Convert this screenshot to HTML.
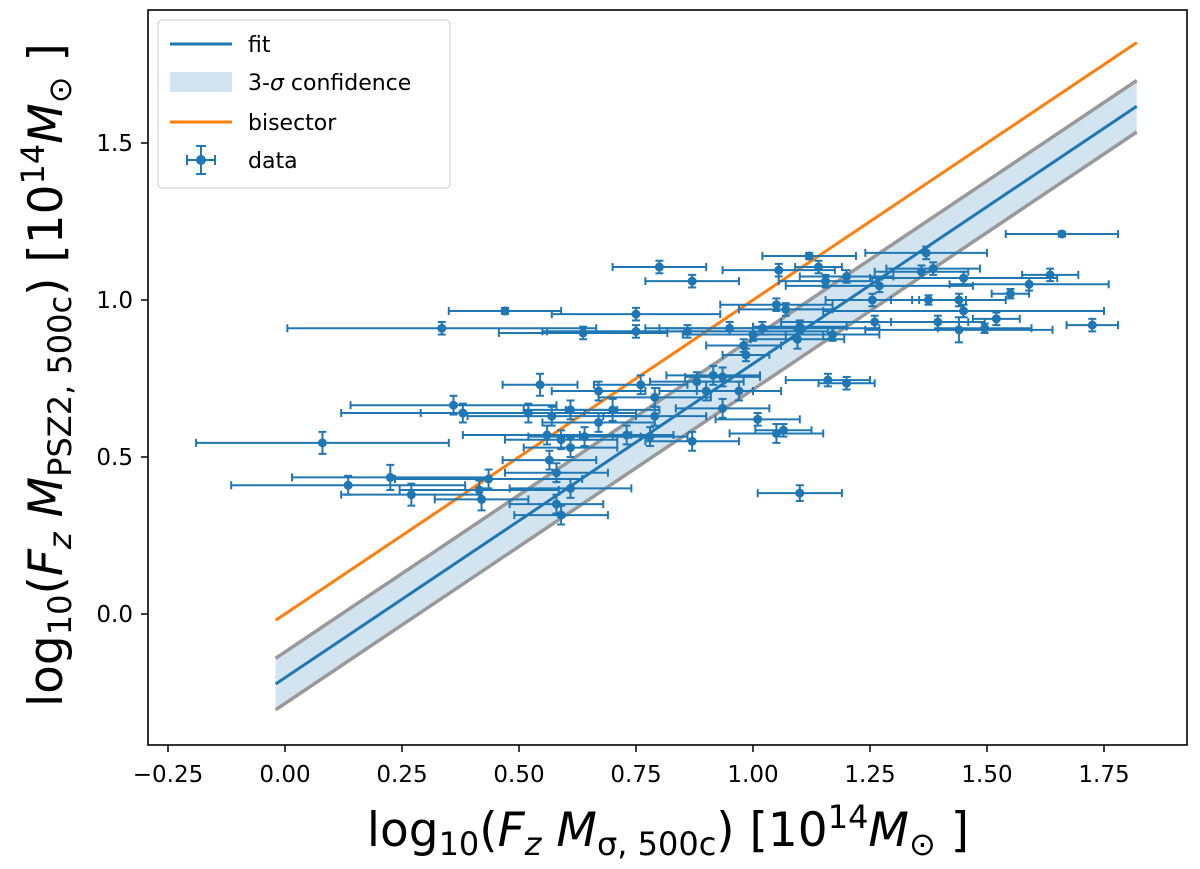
<!DOCTYPE html>
<html><head><meta charset="utf-8"><style>
body{margin:0;background:#fff;}
svg text{font-family:"DejaVu Sans","Liberation Sans",sans-serif;}
</style></head><body>
<svg id="chart" width="1200" height="864" viewBox="0 0 1200 864">
<defs><clipPath id="clip"><rect x="148" y="10" width="1039" height="735"/></clipPath></defs>
<g id="plot" clip-path="url(#clip)"></g>
<rect x="148" y="10" width="1039" height="735" fill="none" stroke="#000" stroke-width="1.6"/>
<g id="axes"></g>
<g>
<rect x="158" y="20" width="292" height="168" rx="4" fill="#fff" fill-opacity="0.8" stroke="#ccc" stroke-width="1"/>
<line x1="170" y1="44" x2="232" y2="44" stroke="#1f77b4" stroke-width="3"/>
<text x="248" y="52" font-size="22">fit</text>
<rect x="170" y="72" width="62" height="20" fill="#1f77b4" fill-opacity="0.2"/>
<text x="248" y="90" font-size="22">3-<tspan font-style="italic">σ</tspan> confidence</text>
<line x1="170" y1="122" x2="232" y2="122" stroke="#ff7f0e" stroke-width="3"/>
<text x="248" y="130" font-size="22">bisector</text>
<g stroke="#1f77b4" stroke-width="2">
<line x1="187" y1="160" x2="215" y2="160"/><line x1="201" y1="146" x2="201" y2="174"/>
<line x1="187" y1="155" x2="187" y2="165"/><line x1="215" y1="155" x2="215" y2="165"/>
<line x1="196" y1="146" x2="206" y2="146"/><line x1="196" y1="174" x2="206" y2="174"/>
<circle cx="201" cy="160" r="5" fill="#1f77b4" stroke="none"/></g>
<text x="248" y="168" font-size="22">data</text>
</g>
<text x="668" y="846" font-size="47" text-anchor="middle">log<tspan font-size="32" dy="9">10</tspan><tspan dy="-9">(</tspan><tspan font-style="italic">F</tspan><tspan font-style="italic" font-size="32" dy="9">z</tspan><tspan dy="-9"> </tspan><tspan font-style="italic">M</tspan><tspan font-size="32" dy="9">σ, 500c</tspan><tspan dy="-9">) [10</tspan><tspan font-size="32" dy="-18">14</tspan><tspan font-style="italic" dy="18">M</tspan><tspan font-size="32" dy="9">⊙</tspan><tspan dy="-9"> ]</tspan></text>
<text transform="translate(62,375) rotate(-90)" font-size="47" text-anchor="middle">log<tspan font-size="32" dy="9">10</tspan><tspan dy="-9">(</tspan><tspan font-style="italic">F</tspan><tspan font-style="italic" font-size="32" dy="9">z</tspan><tspan dy="-9"> </tspan><tspan font-style="italic">M</tspan><tspan font-size="32" dy="9">PSZ2, 500c</tspan><tspan dy="-9">) [10</tspan><tspan font-size="32" dy="-18">14</tspan><tspan font-style="italic" dy="18">M</tspan><tspan font-size="32" dy="9">⊙</tspan><tspan dy="-9"> ]</tspan></text>
</svg>
<script>
const xs=[0.08,0.135,0.225,0.27,0.36,0.38,0.335,0.47,0.545,0.75,0.80,0.87,0.637,0.75,0.95,0.98,0.76,0.67,0.79,0.52,0.57,0.61,0.70,0.67,0.79,0.88,0.915,0.935,0.90,0.97,0.935,0.56,0.59,0.61,0.64,0.73,0.78,0.87,0.565,0.58,0.435,0.415,0.42,0.61,0.58,0.59,1.12,1.37,1.055,1.14,1.385,1.36,1.20,1.155,1.45,1.635,1.59,1.27,1.55,1.255,1.375,1.44,1.05,1.07,1.45,1.52,1.395,1.26,1.725,1.495,1.44,1.10,1.0,1.095,1.17,0.985,1.16,1.20,1.01,1.05,1.065,1.10,1.66,1.02,0.86];
const ys=[0.545,0.41,0.435,0.38,0.665,0.64,0.91,0.965,0.73,0.955,1.105,1.06,0.895,0.90,0.91,0.855,0.73,0.71,0.69,0.64,0.63,0.65,0.65,0.61,0.63,0.74,0.76,0.755,0.71,0.71,0.655,0.57,0.555,0.53,0.565,0.57,0.565,0.55,0.49,0.45,0.43,0.395,0.365,0.40,0.35,0.315,1.14,1.15,1.095,1.105,1.10,1.09,1.075,1.06,1.07,1.08,1.05,1.045,1.02,1.0,1.0,1.0,0.985,0.97,0.965,0.94,0.93,0.93,0.92,0.91,0.905,0.915,0.89,0.875,0.89,0.825,0.745,0.735,0.62,0.575,0.585,0.385,1.21,0.91,0.90];
const xerr=[0.27,0.25,0.21,0.15,0.22,0.26,0.33,0.12,0.08,0.18,0.1,0.1,0.18,0.2,0.15,0.08,0.1,0.1,0.12,0.23,0.18,0.1,0.1,0.12,0.11,0.1,0.1,0.08,0.1,0.09,0.1,0.18,0.12,0.1,0.12,0.1,0.08,0.1,0.1,0.11,0.2,0.17,0.1,0.13,0.1,0.1,0.1,0.13,0.12,0.05,0.1,0.1,0.1,0.1,0.2,0.06,0.17,0.2,0.04,0.1,0.08,0.1,0.12,0.1,0.3,0.05,0.1,0.2,0.055,0.1,0.2,0.1,0.15,0.1,0.1,0.05,0.09,0.06,0.09,0.1,0.06,0.09,0.12,0.25,0.3];
const yerr=[0.035,0.03,0.04,0.035,0.03,0.03,0.02,0.01,0.035,0.02,0.02,0.02,0.02,0.02,0.02,0.02,0.03,0.03,0.03,0.03,0.03,0.03,0.035,0.03,0.03,0.03,0.03,0.03,0.03,0.03,0.03,0.03,0.03,0.03,0.03,0.03,0.03,0.03,0.03,0.03,0.03,0.03,0.035,0.03,0.03,0.03,0.01,0.02,0.02,0.02,0.02,0.02,0.02,0.02,0.02,0.02,0.02,0.02,0.015,0.02,0.015,0.02,0.02,0.02,0.02,0.02,0.02,0.02,0.02,0.015,0.04,0.02,0.02,0.03,0.02,0.02,0.02,0.02,0.02,0.03,0.02,0.025,0.008,0.02,0.02];
const fitSlope=[1.0];
const fitIntercept=[-0.203];
const bandHalf=[0.082];
const lineRange=[-0.02,1.82];
const xTicks=[-0.25,0,0.25,0.5,0.75,1.0,1.25,1.5,1.75];
const xTickLabels=["−0.25","0.00","0.25","0.50","0.75","1.00","1.25","1.50","1.75"];
const yTicks=[0,0.5,1.0,1.5];
const yTickLabels=["0.0","0.5","1.0","1.5"];

const X=v=>285+468*v, Y=v=>614-314*v;
const NS="http://www.w3.org/2000/svg";
const plot=document.getElementById('plot'), axes=document.getElementById('axes');
function mk(tag,attrs,parent){const e=document.createElementNS(NS,tag);for(const k in attrs)e.setAttribute(k,attrs[k]);parent.appendChild(e);return e;}
const a=lineRange[0], b=lineRange[1], m=fitSlope[0], c=fitIntercept[0], h=bandHalf[0];
const band=mk('polygon',{points:`${X(a)},${Y(m*a+c+h)} ${X(b)},${Y(m*b+c+h)} ${X(b)},${Y(m*b+c-h)} ${X(a)},${Y(m*a+c-h)}`,fill:'#1f77b4','fill-opacity':0.2},plot);


[h,-h].forEach((d,i)=>{const l=mk('line',{x1:X(a),y1:Y(m*a+c+d),x2:X(b),y2:Y(m*b+c+d),stroke:'#999',"stroke-width":3.5},plot);

});
const fit=mk('line',{x1:X(a),y1:Y(m*a+c),x2:X(b),y2:Y(m*b+c),stroke:'#1f77b4','stroke-width':3},plot);


const bis=mk('line',{x1:X(a),y1:Y(a),x2:X(b),y2:Y(b),stroke:'#ff7f0e','stroke-width':3},plot);


const dg=mk('g',{stroke:'#1f77b4','stroke-width':2,fill:'#1f77b4'},plot);
xs.forEach((x,i)=>{const g=mk('g',{},dg);


const cx=X(x),cy=Y(ys[i]),x0=X(x-xerr[i]),x1=X(x+xerr[i]),y0=Y(ys[i]+yerr[i]),y1=Y(ys[i]-yerr[i]);
mk('line',{x1:x0,y1:cy,x2:x1,y2:cy},g);mk('line',{x1:cx,y1:y0,x2:cx,y2:y1},g);
mk('line',{x1:x0,y1:cy-4,x2:x0,y2:cy+4},g);mk('line',{x1:x1,y1:cy-4,x2:x1,y2:cy+4},g);
mk('line',{x1:cx-4,y1:y0,x2:cx+4,y2:y0},g);mk('line',{x1:cx-4,y1:y1,x2:cx+4,y2:y1},g);
mk('circle',{cx:cx,cy:cy,r:4.5,stroke:'none'},g);});
xTicks.forEach((v,i)=>{const t=mk('line',{x1:X(v),y1:745,x2:X(v),y2:752,stroke:'#000','stroke-width':1.5},axes);


const l=mk('text',{x:X(v),y:782,'font-size':23,'text-anchor':'middle'},axes);l.textContent=xTickLabels[i];

});
yTicks.forEach((v,i)=>{const t=mk('line',{x1:141,y1:Y(v),x2:148,y2:Y(v),stroke:'#000','stroke-width':1.5},axes);


const l=mk('text',{x:133,y:Y(v)+8,'font-size':23,'text-anchor':'end'},axes);l.textContent=yTickLabels[i];

});
</script>
</body></html>
